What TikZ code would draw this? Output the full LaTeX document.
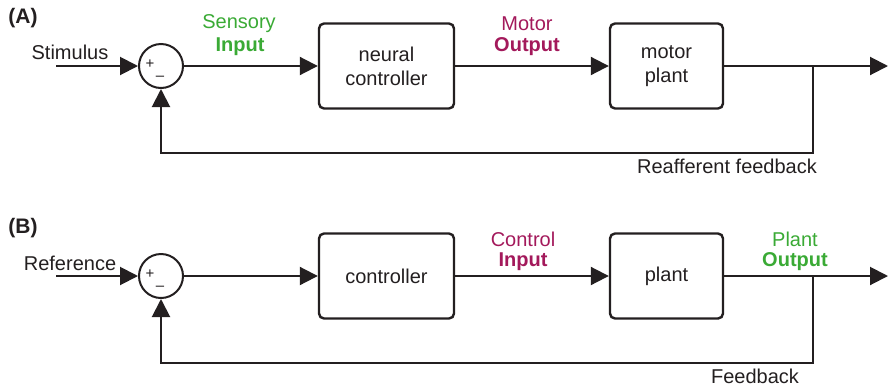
\documentclass[tikz,border=0pt]{standalone}
\usepackage{fontspec}
\setmainfont{Liberation Sans}
\usetikzlibrary{arrows.meta}
\definecolor{txt}{HTML}{231F20}
\definecolor{grn}{HTML}{3AAA35}
\definecolor{prp}{HTML}{A3195B}
\tikzset{
  lbl/.style={text=txt,font=\fontsize{20}{22}\selectfont,inner sep=0pt},
  panel/.style={text=txt,font=\fontsize{21}{23}\selectfont\bfseries,inner sep=0pt},
  blk/.style={draw=txt,line width=2.4pt,rounded corners=5pt,minimum width=135pt,minimum height=85pt,
    text=txt,font=\fontsize{20}{24}\selectfont,align=center,inner sep=0pt},
  blkb/.style={blk,minimum width=113pt},
  sumc/.style={draw=txt,line width=2pt,circle,minimum size=44pt,inner sep=0pt},
  sign/.style={text=txt,font=\fontsize{15}{15}\selectfont,inner sep=0pt},
  wire/.style={draw=txt,line width=2pt},
  arr/.style={wire,-{Triangle[length=18pt,width=18pt]}},
  sig/.style={font=\fontsize{20}{22}\selectfont,inner sep=0pt,align=center},
  sigb/.style={font=\fontsize{20}{22}\selectfont\bfseries,inner sep=0pt,align=center},
}
\begin{document}
\begin{tikzpicture}[x=1pt,y=-1pt]
\useasboundingbox (0,0) rectangle (888,389);
% Panel A
\node[panel] (labA) at (23,18) {(A)};
\node[lbl] (stimT) at (70,52) {Stimulus};
\coordinate (stimA) at (56,66);
\node[sumc] (sA) at (161,66) {};
\node[sign] (pA1) at (150,64) {+};
\node[sign] (mA1) at (160,78) {\textendash};
\node[blk] (nA) at (386.5,66) {neural\\controller};
\node[blkb] (pA) at (666.5,66) {motor\\plant};
\coordinate (brA) at (813,66);
\coordinate (outA) at (888,66);
\coordinate (fbA) at (813,153);
\node[sig,text=grn] (sensT) at (239,24) {Sensory};
\node[sigb,text=grn] (inT) at (240,47) {Input};
\node[sig,text=prp] (motT) at (527,24) {Motor};
\node[sigb,text=prp] (outT) at (527,47) {Output};
\node[lbl] (reafT) at (727,166) {Reafferent feedback};
\draw[arr] (stimA) -- (sA.west);
\draw[arr] (sA.east) -- (nA.west);
\draw[arr] (nA.east) -- (pA.west);
\draw[arr] (pA.east) -- (outA);
\draw[arr] (brA) -- (fbA) -| (sA.south);
% Panel B
\node[panel] (labB) at (23,228) {(B)};
\node[lbl] (refT) at (70,263) {Reference};
\coordinate (refB) at (56,276);
\node[sumc] (sB) at (161,276) {};
\node[sign] (pB1) at (150,274) {+};
\node[sign] (mB1) at (160,288) {\textendash};
\node[blk] (nB) at (386.5,276) {controller};
\node[blkb] (pB) at (666.5,276) {plant};
\coordinate (brB) at (813,276);
\coordinate (outB) at (888,276);
\coordinate (fbB) at (813,363);
\node[sig,text=prp] (ctlT) at (523,239) {Control};
\node[sigb,text=prp] (cinT) at (523,262) {Input};
\node[sig,text=grn] (plT) at (795,239) {Plant};
\node[sigb,text=grn] (poT) at (795,262) {Output};
\node[lbl] (fbT) at (755,376) {Feedback};
\draw[arr] (refB) -- (sB.west);
\draw[arr] (sB.east) -- (nB.west);
\draw[arr] (nB.east) -- (pB.west);
\draw[arr] (pB.east) -- (outB);
\draw[arr] (brB) -- (fbB) -| (sB.south);
\end{tikzpicture}
\end{document}
